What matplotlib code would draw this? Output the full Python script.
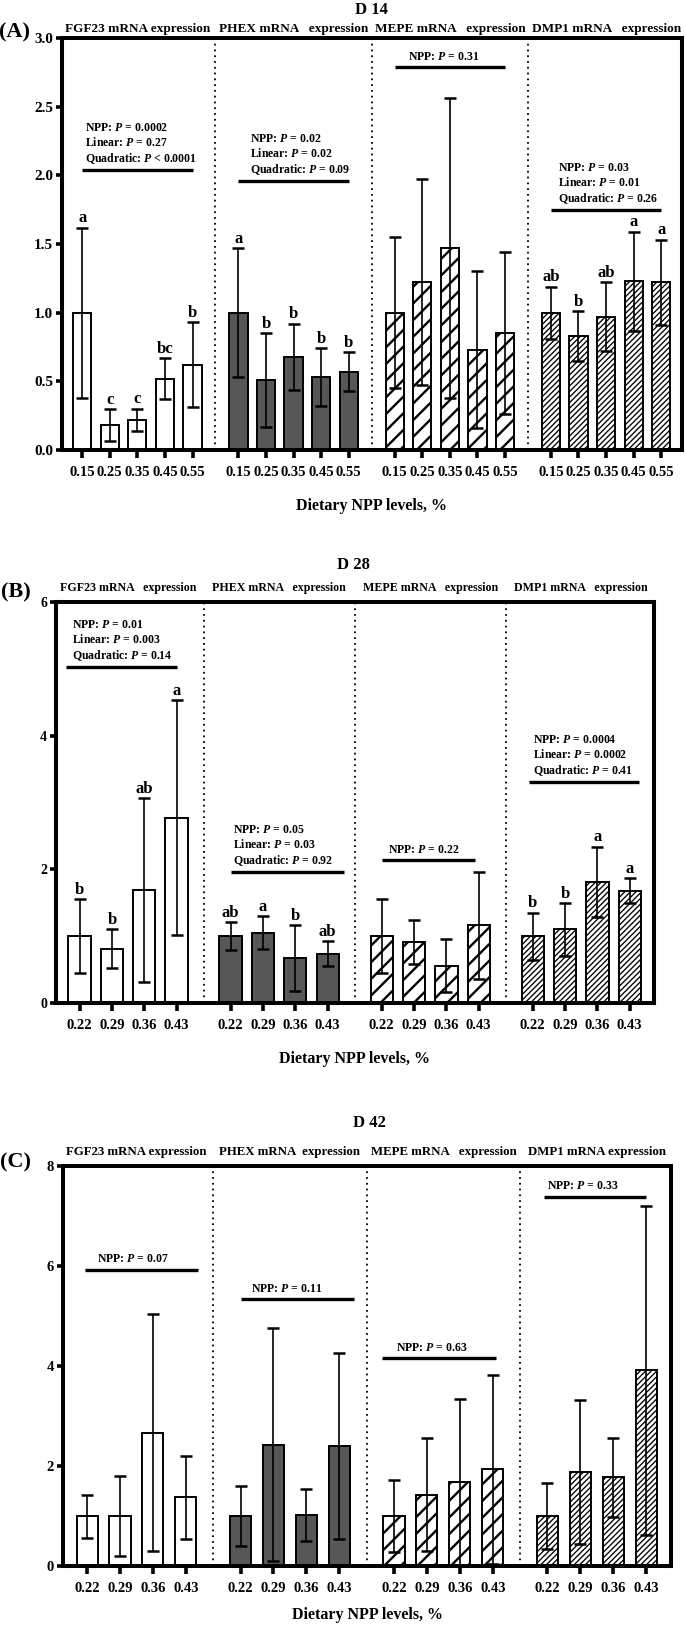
import matplotlib.pyplot as plt
import matplotlib as mpl
import numpy as np

plt.rcParams['font.family'] = 'Liberation Serif'
plt.rcParams['font.weight'] = 'bold'
plt.rcParams['mathtext.fontset'] = 'custom'
plt.rcParams['mathtext.it'] = 'Liberation Serif:italic:bold'
plt.rcParams['mathtext.rm'] = 'Liberation Serif:bold'

# ---- D 14 ----
d14_levels = ['0.15', '0.25', '0.35', '0.45', '0.55']
d14_titles = ['FGF23 mRNA expression', 'PHEX mRNA   expression',
              'MEPE mRNA   expression', 'DMP1 mRNA   expression']
d14_mean = [[1.00, 0.18, 0.22, 0.52, 0.62],
            [1.00, 0.51, 0.68, 0.53, 0.57],
            [1.00, 1.22, 1.47, 0.73, 0.85],
            [1.00, 0.83, 0.97, 1.23, 1.22]]
d14_err = [[0.62, 0.115, 0.08, 0.15, 0.31],
           [0.47, 0.34, 0.24, 0.21, 0.14],
           [0.55, 0.75, 1.09, 0.57, 0.59],
           [0.19, 0.18, 0.25, 0.36, 0.31]]
d14_letters = [['a', 'c', 'c', 'bc', 'b'],
               ['a', 'b', 'b', 'b', 'b'],
               ['', '', '', '', ''],
               ['ab', 'b', 'ab', 'a', 'a']]
d14_pvals = ['NPP: $P$ = 0.0002\nLinear: $P$ = 0.27\nQuadratic: $P$ < 0.0001',
             'NPP: $P$ = 0.02\nLinear: $P$ = 0.02\nQuadratic: $P$ = 0.09',
             'NPP: $P$ = 0.31',
             'NPP: $P$ = 0.03\nLinear: $P$ = 0.01\nQuadratic: $P$ = 0.26']
d14_sig_y = [2.04, 1.96, 2.79, 1.75]
d14_sig_x = [(0, 4), (0, 4), (0, 4), (0, 4)]
d14_txt_dx = [0.1, 0.43, 0.5, 0.25]

# ---- D 28 ----
d28_levels = ['0.22', '0.29', '0.36', '0.43']
d28_titles = ['FGF23 mRNA   expression', 'PHEX mRNA   expression',
              'MEPE mRNA   expression', 'DMP1 mRNA   expression']
d28_mean = [[1.00, 0.81, 1.69, 2.77],
            [1.00, 1.05, 0.67, 0.74],
            [1.00, 0.91, 0.56, 1.16],
            [1.00, 1.10, 1.81, 1.68]]
d28_err = [[0.55, 0.29, 1.37, 1.76],
           [0.21, 0.245, 0.49, 0.185],
           [0.55, 0.33, 0.40, 0.795],
           [0.35, 0.39, 0.53, 0.19]]
d28_letters = [['b', 'b', 'ab', 'a'],
               ['ab', 'a', 'b', 'ab'],
               ['', '', '', ''],
               ['b', 'b', 'a', 'a']]
d28_pvals = ['NPP: $P$ = 0.01\nLinear: $P$ = 0.003\nQuadratic: $P$ = 0.14',
             'NPP: $P$ = 0.05\nLinear: $P$ = 0.03\nQuadratic: $P$ = 0.92',
             'NPP: $P$ = 0.22',
             'NPP: $P$ = 0.0004\nLinear: $P$ = 0.0002\nQuadratic: $P$ = 0.41']
d28_sig_y = [5.02, 1.96, 2.14, 3.30]
d28_sig_x = [(-0.43, 3.0), (0, 3.5), (0, 2.87), (-0.1, 3.3)]
d28_txt_dx = [-0.25, 0.08, 0.18, 0.0]

# ---- D 42 ----
d42_levels = ['0.22', '0.29', '0.36', '0.43']
d42_titles = ['FGF23 mRNA expression', 'PHEX mRNA  expression',
              'MEPE mRNA   expression', 'DMP1 mRNA expression']
d42_mean = [[1.00, 1.00, 2.67, 1.375],
            [1.00, 2.43, 1.03, 2.41],
            [1.00, 1.43, 1.68, 1.94],
            [1.00, 1.88, 1.78, 3.92]]
d42_err = [[0.43, 0.80, 2.37, 0.83],
           [0.60, 2.33, 0.52, 1.86],
           [0.72, 1.13, 1.67, 1.89],
           [0.665, 1.44, 0.79, 3.29]]
d42_letters = [['', '', '', '']] * 4
d42_pvals = ['NPP: $P$ = 0.07', 'NPP: $P$ = 0.11', 'NPP: $P$ = 0.63', 'NPP: $P$ = 0.33']
d42_sig_y = [5.93, 5.34, 4.16, 7.39]
d42_sig_x = [(-0.06, 3.36), (0, 3.45), (-0.36, 3.09), (-0.12, 3.0)]
d42_txt_dx = [0.3, 0.33, 0.06, 0.0]

# bar looks for the four genes
styles = [dict(fc='white', hatch=None, hlw=1.0),
          dict(fc='#575757', hatch=None, hlw=1.0),
          dict(fc='white', hatch='//', hlw=1.7),
          dict(fc='white', hatch='//////', hlw=0.95)]


def draw_panel(ax, levels, means, errs, letters, pvals, sig_y, sig_x, txt_dx,
               titles, step, yticks, yfmt, width, title_fs, title_dy, ytick_fs, xlab_pad):
    n = len(levels)
    xt, xl = [], []
    for g in range(4):
        x = g * step + np.arange(n)
        st = styles[g]
        with mpl.rc_context({'hatch.linewidth': st['hlw']}):
            bars = ax.bar(x, means[g], width=width, color=st['fc'], edgecolor='black',
                          linewidth=1.4, hatch=st['hatch'], zorder=2)
        for b in bars:
            if hasattr(b, 'set_hatch_linewidth'):
                b.set_hatch_linewidth(st['hlw'])
        ax.errorbar(x, means[g], yerr=errs[g], fmt='none', ecolor='black',
                    elinewidth=1.2, capsize=4.3, capthick=1.8, zorder=3)
        for xi, m, e, lab in zip(x, means[g], errs[g], letters[g]):
            if lab:
                ax.annotate(lab, (xi, m + e), xytext=(0, 1), textcoords='offset points',
                            ha='center', va='bottom', fontsize=12, fontweight='bold')
        # significance line + p values
        x0, x1 = g * step + sig_x[g][0], g * step + sig_x[g][1]
        ax.plot([x0, x1], [sig_y[g], sig_y[g]], color='black', lw=2.4, zorder=3,
                solid_capstyle='butt')
        ax.annotate(pvals[g], (g * step + txt_dx[g], sig_y[g]), xytext=(0, 3),
                    textcoords='offset points', ha='left', va='bottom',
                    fontsize=8.5, linespacing=1.2)
        # gene title above the box
        ax.annotate(titles[g], (g * step + (n - 1) / 2, 1.0),
                    xycoords=('data', 'axes fraction'), xytext=(0, title_dy),
                    textcoords='offset points', ha='center', va='center',
                    fontsize=title_fs, annotation_clip=False)
        if g > 0:
            ax.axvline(g * step - (step - (n - 1)) / 2, color='black', lw=1.3,
                       ls=(0, (1, 2.2)), zorder=1)
        xt += list(x)
        xl += levels
    ax.set_xlim(-0.73, 3 * step + n - 1 + 0.75)
    ax.set_ylim(yticks[0], yticks[-1])
    ax.set_xticks(xt)
    ax.set_xticklabels(xl, fontsize=10.5, fontweight='bold')
    ax.set_yticks(yticks)
    ax.set_yticklabels([yfmt.format(v) for v in yticks], fontsize=ytick_fs, fontweight='bold')
    ax.tick_params(axis='both', width=2.6, length=4.5, pad=2)
    ax.tick_params(axis='x', length=6, pad=5.5)
    for s in ax.spines.values():
        s.set_linewidth(2.9)
    ax.set_xlabel('Dietary NPP levels, %', fontsize=11.5, fontweight='bold', labelpad=xlab_pad)


fig = plt.figure(figsize=(6.85, 16.27), dpi=100)
H = 1627.0
W = 685.0
axA = fig.add_axes([62 / W, 1 - 450 / H, 620 / W, 412 / H])
axB = fig.add_axes([56 / W, 1 - 1003 / H, 598 / W, 401 / H])
axC = fig.add_axes([63 / W, 1 - 1566 / H, 608 / W, 400 / H])

draw_panel(axA, d14_levels, d14_mean, d14_err, d14_letters, d14_pvals, d14_sig_y,
           d14_sig_x, d14_txt_dx, d14_titles, 5.66, [0, 0.5, 1.0, 1.5, 2.0, 2.5, 3.0],
           '{:.1f}', 0.66, 9.5, 6.5, 11, 14)
draw_panel(axB, d28_levels, d28_mean, d28_err, d28_letters, d28_pvals, d28_sig_y,
           d28_sig_x, d28_txt_dx, d28_titles, 4.67, [0, 2, 4, 6], '{:d}', 0.69,
           8.6, 10, 10, 14)
draw_panel(axC, d42_levels, d42_mean, d42_err, d42_letters, d42_pvals, d42_sig_y,
           d42_sig_x, d42_txt_dx, d42_titles, 4.66, [0, 2, 4, 6, 8], '{:d}', 0.64,
           9.3, 10, 10.5, 9)

fig.text(371 / W, 1 - 10 / H, 'D 14', ha='center', va='center', fontsize=12, fontweight='bold')
fig.text(353 / W, 1 - 565 / H, 'D 28', ha='center', va='center', fontsize=12, fontweight='bold')
fig.text(369 / W, 1 - 1123 / H, 'D 42', ha='center', va='center', fontsize=12, fontweight='bold')
fig.text(15 / W, 1 - 32 / H, '(A)', ha='center', va='center', fontsize=16, fontweight='bold')
fig.text(16 / W, 1 - 592 / H, '(B)', ha='center', va='center', fontsize=16, fontweight='bold')
fig.text(16 / W, 1 - 1162 / H, '(C)', ha='center', va='center', fontsize=16, fontweight='bold')

fig.savefig('out.png', dpi=100)
